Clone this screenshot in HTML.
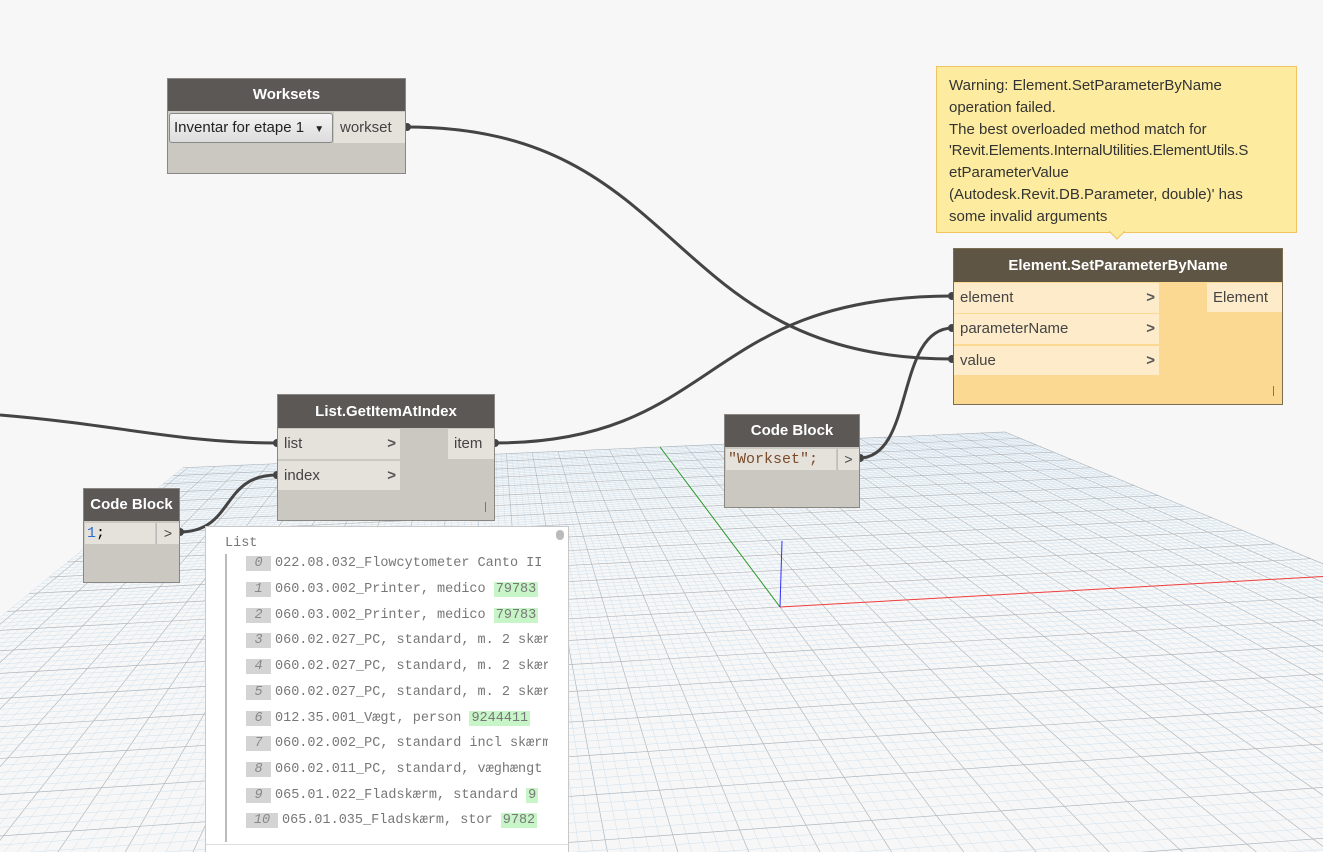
<!DOCTYPE html>
<html><head><meta charset="utf-8"><style>
*{box-sizing:border-box;margin:0;padding:0}
html,body{width:1323px;height:852px;overflow:hidden}
body{background:#f7f7f7;font-family:"Liberation Sans",sans-serif;position:relative}
.abs{position:absolute}
.node{position:absolute;background:#cbc7c1;border:1px solid #8a8782}
.hdr{position:absolute;left:0;right:0;top:0;background:#5b5855;color:#fff;font-weight:bold;font-size:15px;text-align:center}
.port{position:absolute;background:#e5e2dc;color:#444;font-size:15px;padding-left:6px}
.chev{position:absolute;right:4px;top:0;font-weight:bold;color:#555}
.mono{font-family:"Liberation Mono",monospace}
.row{position:absolute;left:40px;font-family:"Liberation Mono",monospace;font-size:13.5px;color:#777;white-space:nowrap}
.idx{display:inline-block;width:25px;background:#d4d4d4;color:#888;font-style:italic;text-align:center;margin-right:4px}
.g{background:#c8f5c8;padding:0 2px}
</style></head><body>
<svg id="grid" class="abs" style="left:0;top:0" width="1323" height="852"></svg>

<svg class="abs" style="left:0;top:0" width="1323" height="852">
<g fill="none" stroke="#444" stroke-width="3">
<path d="M0,415 C120,425 180,443 277,443"/>
<path d="M406,127 C690,127 660,359 953,359"/>
<path d="M494,443 C720,443 700,296 953,296"/>
<path d="M859,458 C915,458 895,328 953,328"/>
<path d="M179,532 C235,532 220,475 277,475"/>
</g>
<g fill="#444">
<circle cx="407" cy="127" r="4"/><circle cx="952" cy="359" r="4"/><circle cx="495" cy="443" r="4"/><circle cx="952" cy="296" r="4"/><circle cx="860" cy="458" r="4"/><circle cx="952" cy="328" r="4"/><circle cx="180" cy="532" r="4"/><circle cx="277" cy="475" r="4"/><circle cx="277" cy="443" r="4"/>
</g>
</svg>

<div class="node" style="left:167px;top:78px;width:239px;height:96px">
<div class="hdr" style="height:32px;line-height:32px">Worksets</div>
<div class="abs" style="left:1px;top:34px;width:164px;height:30px;background:linear-gradient(#f4f4f4,#dcdcdc);border:1px solid #888;border-radius:3px;font-size:15px;line-height:28px;padding-left:4px;color:#222">Inventar for etape 1 <span style="font-size:10px;margin-left:6px">▼</span></div>
<div class="port" style="left:166px;top:33px;width:71px;height:31px;line-height:31px">workset</div>
</div>

<div class="abs" style="left:936px;top:66px;width:361px;height:167px;background:#fdeca0;border:1px solid #f2c35e;padding:8px 12px;font-size:15px;line-height:21.8px;color:#333;white-space:nowrap;overflow:hidden">Warning: Element.SetParameterByName<br>operation failed.<br>The best overloaded method match for<br><span style="letter-spacing:-0.2px">'Revit.Elements.InternalUtilities.ElementUtils.S</span><br>etParameterValue<br>(Autodesk.Revit.DB.Parameter, double)' has<br>some invalid arguments</div>
<svg class="abs" style="left:1108px;top:231px" width="20" height="10"><path d="M1,0 L9,8 L17,0" fill="#fdeca0" stroke="#f2c35e"/></svg>

<div class="node" style="left:953px;top:248px;width:330px;height:157px;background:#fcd992;border-color:#7a6d50">
<div class="hdr" style="height:33px;line-height:33px;background:#5f5544">Element.SetParameterByName</div>
<div class="port" style="left:0;top:34px;width:205px;height:30px;line-height:30px;background:#fdebc9">element<span class="chev">&gt;</span></div>
<div class="port" style="left:0;top:65px;width:205px;height:30px;line-height:30px;background:#fdebc9">parameterName<span class="chev">&gt;</span></div>
<div class="port" style="left:0;top:97px;width:205px;height:29px;line-height:29px;background:#fdebc9">value<span class="chev">&gt;</span></div>
<div class="port" style="left:253px;top:34px;width:75px;height:29px;line-height:29px;background:#fdebc9">Element</div>
<div class="abs" style="right:8px;bottom:8px;width:1px;height:10px;background:#777"></div>
</div>

<div class="node" style="left:277px;top:394px;width:218px;height:127px">
<div class="hdr" style="height:33px;line-height:33px">List.GetItemAtIndex</div>
<div class="port" style="left:0;top:34px;width:122px;height:30px;line-height:30px">list<span class="chev">&gt;</span></div>
<div class="port" style="left:0;top:66px;width:122px;height:29px;line-height:29px">index<span class="chev">&gt;</span></div>
<div class="port" style="left:170px;top:34px;width:46px;height:30px;line-height:30px">item</div>
<div class="abs" style="right:8px;bottom:8px;width:1px;height:10px;background:#777"></div>
</div>

<div class="node" style="left:724px;top:414px;width:136px;height:94px">
<div class="hdr" style="height:32px;line-height:32px">Code Block</div>
<div class="abs mono" style="left:1px;top:34px;width:110px;height:21px;background:#e5e2dc;color:#7a4a2a;font-size:15px;line-height:21px;padding-left:2px">"Workset";</div>
<div class="abs" style="left:112px;top:34px;width:22px;height:21px;background:#e5e2dc;color:#444;font-size:14px;line-height:21px;text-align:center;border-left:1px solid #bbb">&gt;</div>
</div>

<div class="node" style="left:83px;top:488px;width:97px;height:95px">
<div class="hdr" style="height:32px;line-height:32px">Code Block</div>
<div class="abs mono" style="left:1px;top:34px;width:70px;height:21px;background:#e5e2dc;font-size:15px;line-height:21px;padding-left:2px"><span style="color:#2a6fd0">1</span>;</div>
<div class="abs" style="left:72px;top:34px;width:23px;height:21px;background:#e5e2dc;color:#444;font-size:14px;line-height:21px;text-align:center;border-left:1px solid #bbb">&gt;</div>
</div>

<div class="abs" style="left:205px;top:526px;width:364px;height:326px;background:#fff;border:1px solid #c8c8c8;border-bottom:none;overflow:hidden">
<div class="abs mono" style="left:19px;top:9px;font-size:13.5px;color:#777">List</div>
<div class="abs" style="left:19px;top:27px;width:2px;height:288px;background:#bbb"></div>
<div class="abs" style="left:350px;top:3px;width:8px;height:10px;border-radius:4px;background:#bbb"></div>
<div class="abs" style="left:0;top:317px;width:364px;height:1px;background:#ddd"></div>
<div style="position:absolute;left:0;top:29px;width:342px;height:290px;overflow:hidden">
<div class="row" style="top:0"><span class="idx">0</span>022.08.032_Flowcytometer Canto II</div>
<div class="row" style="top:26px"><span class="idx">1</span>060.03.002_Printer, medico  <span class="g">79783</span></div>
<div class="row" style="top:52px"><span class="idx">2</span>060.03.002_Printer, medico  <span class="g">79783</span></div>
<div class="row" style="top:77px"><span class="idx">3</span>060.02.027_PC, standard, m. 2 skærm</div>
<div class="row" style="top:103px"><span class="idx">4</span>060.02.027_PC, standard, m. 2 skærm</div>
<div class="row" style="top:129px"><span class="idx">5</span>060.02.027_PC, standard, m. 2 skærm</div>
<div class="row" style="top:155px"><span class="idx">6</span>012.35.001_Vægt, person  <span class="g">9244411</span></div>
<div class="row" style="top:180px"><span class="idx">7</span>060.02.002_PC, standard incl skærm</div>
<div class="row" style="top:206px"><span class="idx">8</span>060.02.011_PC, standard, væghængt</div>
<div class="row" style="top:232px"><span class="idx">9</span>065.01.022_Fladskærm, standard  <span class="g">9</span></div>
<div class="row" style="top:257px"><span class="idx" style="width:32px">10</span>065.01.035_Fladskærm, stor  <span class="g">9782</span></div>
</div>
</div>

<script>
(function(){
var src=[[0,0],[0,1],[1,1],[1,0]],dst=[[780,607],[660,447],[1005,432],[1350,575]];
var A=[],b=[];
for(var i=0;i<4;i++){var x=src[i][0],y=src[i][1],X=dst[i][0],Y=dst[i][1];
A.push([x,y,1,0,0,0,-x*X,-y*X]);b.push(X);
A.push([0,0,0,x,y,1,-x*Y,-y*Y]);b.push(Y);}
var n=8;for(var c=0;c<n;c++){var p=c;for(var r=c+1;r<n;r++)if(Math.abs(A[r][c])>Math.abs(A[p][c]))p=r;
var t=A[c];A[c]=A[p];A[p]=t;t=b[c];b[c]=b[p];b[p]=t;
for(var r=0;r<n;r++)if(r!=c){var f=A[r][c]/A[c][c];for(var k=c;k<n;k++)A[r][k]-=f*A[c][k];b[r]-=f*b[c];}}
var h=[];for(var i=0;i<n;i++)h.push(b[i]/A[i][i]);
function P(u,v){var w=h[6]*u+h[7]*v+1;return [(h[0]*u+h[1]*v+h[2])/w,(h[3]*u+h[4]*v+h[5])/w,w];}
var s='',N=70,u0=-1.3,u1=1.0,v0=-3,v1=1.0;
function seg(a,b2,col,sw){var p=P(a[0],a[1]),q=P(b2[0],b2[1]);if(p[2]<=0.05||q[2]<=0.05)return;
s+='<line x1="'+p[0].toFixed(1)+'" y1="'+p[1].toFixed(1)+'" x2="'+q[0].toFixed(1)+'" y2="'+q[1].toFixed(1)+'" stroke="'+col+'" stroke-width="'+sw+'"/>';}
while(P(u0,v0)[2]<0.08||P(u1,v0)[2]<0.08)v0+=0.05;
for(var i=Math.ceil(u0*N);i<=Math.floor(u1*N);i++){var u=i/N;var maj=i%5==0;seg([u,v0],[u,v1],maj?'#aeb8c0':'#cde0ee',maj?0.7:0.5);}
for(var i=Math.ceil(v0*N);i<=Math.floor(v1*N);i++){var v=i/N;var maj=i%5==0;seg([u0,v],[u1,v],maj?'#aeb8c0':'#cde0ee',maj?0.7:0.5);}
seg([0,0],[0,1],'#2a9a2a',1);seg([0,0],[1,0],'#f04040',1);
s+='<line x1="780" y1="607" x2="782" y2="541" stroke="#3030ff" stroke-width="1"/>';
document.getElementById('grid').innerHTML=s;
})();
</script>
</body></html>
